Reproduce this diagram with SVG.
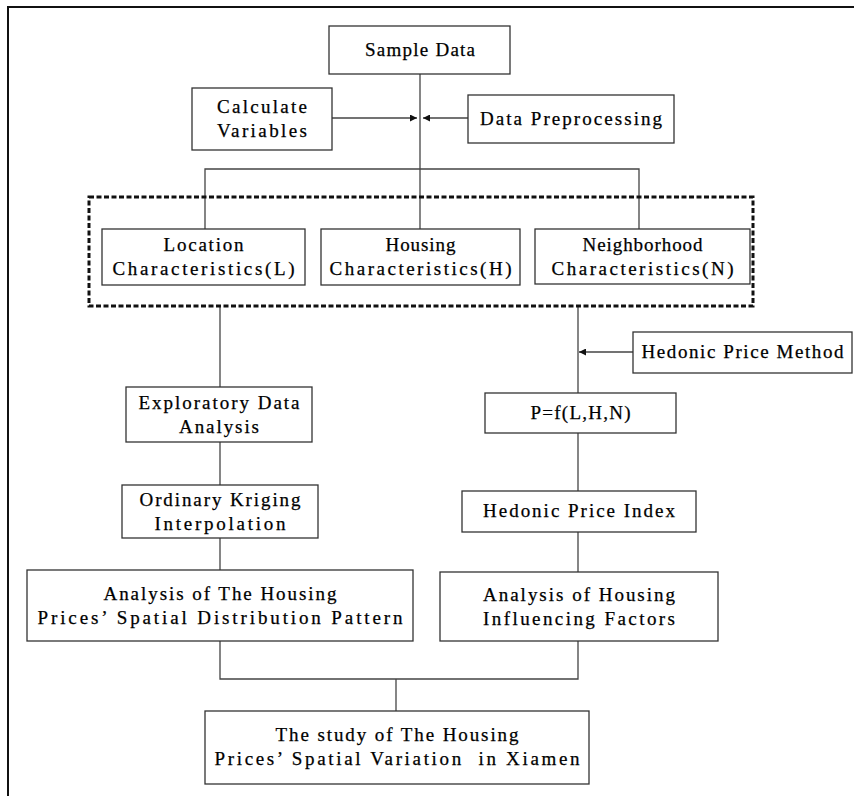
<svg xmlns="http://www.w3.org/2000/svg" width="854" height="796" viewBox="0 0 854 796">
<defs>
<style>
.box{fill:#fff;stroke:#333;stroke-width:1.3}
.t{font-family:"Liberation Serif","Times New Roman",serif;font-size:19px;fill:#000;stroke:#000;stroke-width:0.25;text-anchor:middle;white-space:pre}
.ln{fill:none;stroke:#444;stroke-width:1.3}
.frame{fill:none;stroke:#111;stroke-width:2}
.dash{fill:none;stroke:#111;stroke-width:3;stroke-dasharray:5 2.5}
</style>
<marker id="ah" viewBox="0 0 10 10" refX="10" refY="5" markerWidth="8" markerHeight="7" markerUnits="userSpaceOnUse" orient="auto">
<path d="M0,0 L10,5 L0,10 Z" fill="#111"/>
</marker>
</defs>
<rect width="854" height="796" fill="#fff"/>
<path class="frame" d="M8,796 L8,7 L854,7"/>

<g id="connectors">
<path class="ln" d="M420,74 V229"/>
<path class="ln" d="M332,118 H417" marker-end="url(#ah)"/>
<path class="ln" d="M468,118 H423" marker-end="url(#ah)"/>
<path class="ln" d="M205,229 V169 H639 V229"/>
<path class="ln" d="M220,306 V387"/>
<path class="ln" d="M578,306 V393"/>
<path class="ln" d="M633,352 H579" marker-end="url(#ah)"/>
<path class="ln" d="M220,442 V485"/>
<path class="ln" d="M578,433 V491"/>
<path class="ln" d="M220,538 V570"/>
<path class="ln" d="M578,532 V572"/>
<path class="ln" d="M220,641 V679 H578 V641"/>
<path class="ln" d="M396,679 V711"/>
</g>

<rect id="group-box" class="dash" x="89" y="197" width="664" height="109"/>

<g id="sample-data">
<rect class="box" x="329" y="26" width="181" height="48"/>
<text class="t" x="420" y="56" textLength="110" lengthAdjust="spacing">Sample Data</text>
</g>
<g id="calculate-variables">
<rect class="box" x="192" y="88" width="140" height="62"/>
<text class="t" x="262" y="113" textLength="90" lengthAdjust="spacing">Calculate</text>
<text class="t" x="262" y="137" textLength="90" lengthAdjust="spacing">Variables</text>
</g>
<g id="data-preprocessing">
<rect class="box" x="468" y="95" width="206" height="48"/>
<text class="t" x="571" y="125" textLength="182" lengthAdjust="spacing">Data Preprocessing</text>
</g>
<g id="location">
<rect class="box" x="102" y="229" width="203" height="56"/>
<text class="t" x="203.5" y="251" textLength="80" lengthAdjust="spacing">Location</text>
<text class="t" x="203.5" y="275" textLength="182" lengthAdjust="spacing">Characteristics(L)</text>
</g>
<g id="housing">
<rect class="box" x="321" y="229" width="199" height="56"/>
<text class="t" x="420.5" y="251" textLength="70" lengthAdjust="spacing">Housing</text>
<text class="t" x="420.5" y="275" textLength="182" lengthAdjust="spacing">Characteristics(H)</text>
</g>
<g id="neighborhood">
<rect class="box" x="535" y="229" width="215" height="55"/>
<text class="t" x="642.5" y="251" textLength="120" lengthAdjust="spacing">Neighborhood</text>
<text class="t" x="642.5" y="275" textLength="182" lengthAdjust="spacing">Characteristics(N)</text>
</g>
<g id="hedonic-method">
<rect class="box" x="633" y="332" width="219" height="41"/>
<text class="t" x="742.5" y="358" textLength="202" lengthAdjust="spacing">Hedonic Price Method</text>
</g>
<g id="exploratory">
<rect class="box" x="126" y="387" width="186" height="55"/>
<text class="t" x="219" y="409" textLength="161" lengthAdjust="spacing">Exploratory Data</text>
<text class="t" x="219" y="433" textLength="80" lengthAdjust="spacing">Analysis</text>
</g>
<g id="pfunction">
<rect class="box" x="485" y="393" width="191" height="40"/>
<text class="t" x="580.5" y="419" textLength="100" lengthAdjust="spacing">P=f(L,H,N)</text>
</g>
<g id="kriging">
<rect class="box" x="122" y="485" width="196" height="53"/>
<text class="t" x="220" y="506" textLength="161" lengthAdjust="spacing">Ordinary Kriging</text>
<text class="t" x="220" y="530" textLength="131" lengthAdjust="spacing">Interpolation</text>
</g>
<g id="hedonic-index">
<rect class="box" x="462" y="491" width="234" height="41"/>
<text class="t" x="579" y="517" textLength="192" lengthAdjust="spacing">Hedonic Price Index</text>
</g>
<g id="spatial-pattern">
<rect class="box" x="27" y="570" width="386" height="71"/>
<text class="t" x="220" y="600" textLength="233" lengthAdjust="spacing">Analysis of The Housing</text>
<text class="t" x="220" y="624" textLength="365" lengthAdjust="spacing">Prices’ Spatial Distribution Pattern</text>
</g>
<g id="influencing-factors">
<rect class="box" x="440" y="572" width="278" height="69"/>
<text class="t" x="579" y="601" textLength="192" lengthAdjust="spacing">Analysis of Housing</text>
<text class="t" x="579" y="625" textLength="192" lengthAdjust="spacing">Influencing Factors</text>
</g>
<g id="study">
<rect class="box" x="205" y="711" width="384" height="73"/>
<text class="t" x="397" y="741" textLength="243" lengthAdjust="spacing">The study of The Housing</text>
<text class="t" x="397" y="765" textLength="365" lengthAdjust="spacing" xml:space="preserve">Prices’ Spatial Variation  in Xiamen</text>
</g>
</svg>
